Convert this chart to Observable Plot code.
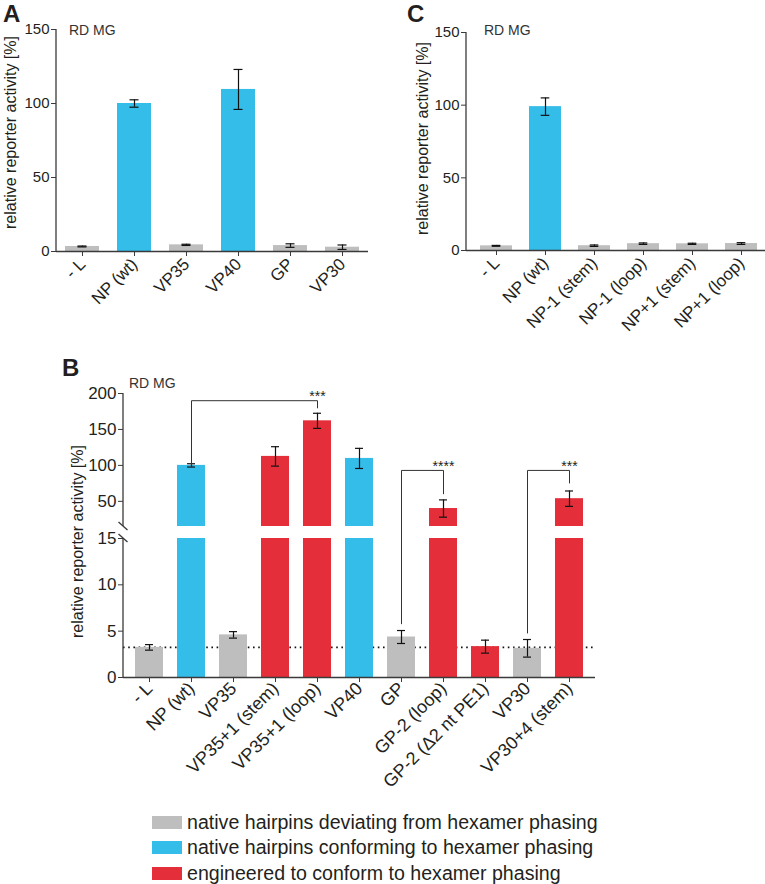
<!DOCTYPE html>
<html><head><meta charset="utf-8">
<script src="https://cdn.jsdelivr.net/npm/d3@7"></script>
<script src="https://cdn.jsdelivr.net/npm/@observablehq/plot@0.6"></script>
<style>
body{margin:0;background:#fff;}
#fig{position:relative;width:765px;height:884px;overflow:hidden;font-family:"Liberation Sans",Arial,Helvetica,sans-serif;color:#231f20;background:#fff;}
.panel{position:absolute;}
.lg{position:absolute;left:152px;display:flex;align-items:center;font-size:19.6px;white-space:nowrap;}
.sw{width:30px;height:13px;margin-right:5px;}
</style></head><body><div id="fig"></div>
<script>
// ---------- shared ----------
const groupNames = ["deviating", "conforming", "engineered"];
const groupColors = ["#BEBEBE", "#35BDEA", "#E42E3A"];
const legendLabels = [
  "native hairpins deviating from hexamer phasing",
  "native hairpins conforming to hexamer phasing",
  "engineered to conform to hexamer phasing"
];
const cellLine = "RD MG";
const yLabel = "relative reporter activity [%]";

// ---------- panel A ----------
const catsA = ["- L", "NP (wt)", "VP35", "VP40", "GP", "VP30"];
const valuesA = [3.4, 100, 4.5, 109.5, 4.0, 2.9];
const errorsA = [0.3, 2.5, 0.4, 13.5, 1.2, 1.5];
const groupsA = ["deviating", "conforming", "deviating", "conforming", "deviating", "deviating"];
const ticksA = [0, 50, 100, 150];

// ---------- panel C ----------
const catsC = ["- L", "NP (wt)", "NP-1 (stem)", "NP-1 (loop)", "NP+1 (stem)", "NP+1 (loop)"];
const valuesC = [3.2, 99, 3.3, 4.7, 4.6, 4.8];
const errorsC = [0.3, 6, 0.5, 0.5, 0.4, 0.6];
const groupsC = ["deviating", "conforming", "deviating", "deviating", "deviating", "deviating"];
const ticksC = [0, 50, 100, 150];

// ---------- panel B ----------
const catsB = ["- L", "NP (wt)", "VP35", "VP35+1 (stem)", "VP35+1 (loop)", "VP40", "GP", "GP-2 (loop)", "GP-2 (\u03942 nt PE1)", "VP30", "VP30+4 (stem)"];
const valuesB = [3.25, 100, 4.6, 112.5, 162, 109.7, 4.37, 40, 3.33, 3.15, 53.7];
const errorsB = [0.3, 2.3, 0.35, 13.5, 10.5, 14, 0.7, 12, 0.7, 0.95, 10.7];
const groupsB = ["deviating", "conforming", "deviating", "engineered", "engineered", "conforming", "deviating", "engineered", "engineered", "deviating", "engineered"];
const ticksB = [0, 5, 10, 15, 50, 100, 150, 200];
const baselineB = 3.25;
const bracketFrom = ["NP (wt)", "GP", "VP30"];
const bracketTo = ["VP35+1 (loop)", "GP-2 (loop)", "VP30+4 (stem)"];
const bracketTop = [190, 93, 93];
const bracketFromEnd = [101, 5.8, 4.8];
const bracketToEnd = [180, 60.5, 75.5];
const bracketLabels = ["***", "****", "***"];

// ---------- helpers ----------
const AXIS = "#3a3a3a";
const INK = "#231f20";
const FONT = '"Liberation Sans", Arial, Helvetica, sans-serif';

// broken y axis for panel B: lower segment [0, 15], upper segment [15, 200]
const LOW_MAX = 15, HIGH_MAX = 200;
const LOW_SPAN = 139, GAP = 12, HIGH_SPAN = 133;
function disp(v) {
  return v <= LOW_MAX ? v * LOW_SPAN / LOW_MAX
    : LOW_SPAN + GAP + (v - LOW_MAX) * HIGH_SPAN / (HIGH_MAX - LOW_MAX);
}
const UPPER_START = LOW_SPAN + GAP;
const DISP_MAX = disp(HIGH_MAX);

function rows(cats, values, errors, groups) {
  return cats.map((c, i) => ({cat: c, value: values[i], err: errors[i], group: groups[i]}));
}

function axisLine(segments, breaks) {
  return (index, scales, values, dims) => {
    const g = d3.create("svg:g").attr("stroke", AXIS).attr("stroke-width", 1.3).attr("fill", "none");
    const x = dims.marginLeft;
    for (const [a, b] of segments) {
      g.append("line").attr("x1", x).attr("x2", x).attr("y1", scales.y(a)).attr("y2", scales.y(b));
    }
    for (const v of breaks) {
      const y = scales.y(v);
      g.append("line").attr("x1", x - 4.5).attr("x2", x + 4.5).attr("y1", y - 4).attr("y2", y + 4);
    }
    return g.node();
  };
}

const colorScale = {domain: groupNames, range: groupColors};

function simplePanel(cats, values, errors, groups, ticks, opts) {
  const data = rows(cats, values, errors, groups);
  return Plot.plot({
    width: opts.width, height: opts.height,
    marginLeft: opts.ml, marginRight: opts.mr, marginTop: opts.mt, marginBottom: opts.mb,
    style: {fontFamily: FONT, fontSize: "15px", color: INK, background: "transparent", overflow: "visible"},
    x: {domain: cats, paddingInner: opts.pi, paddingOuter: opts.po, align: opts.align ?? 0.5},
    y: {domain: [0, ticks[ticks.length - 1]]},
    color: colorScale,
    marks: [
      Plot.barY(data, {x: "cat", y: "value", fill: "group"}),
      Plot.ruleX(data, {x: "cat", y1: d => d.value - d.err, y2: d => d.value + d.err, stroke: "#111", strokeWidth: 1.2}),
      Plot.tickY(data, {x: "cat", y: d => d.value + d.err, stroke: "#111", strokeWidth: 1.2, insetLeft: opts.cap, insetRight: opts.cap}),
      Plot.tickY(data, {x: "cat", y: d => d.value - d.err, stroke: "#111", strokeWidth: 1.2, insetLeft: opts.cap, insetRight: opts.cap}),
      Plot.ruleY([0], {stroke: AXIS, strokeWidth: 1.3}),
      axisLine([[0, ticks[ticks.length - 1]]], []),
      Plot.axisY({ticks, tickSize: 5, tickPadding: 2, fontSize: 15, label: null, stroke: AXIS}),
      Plot.axisX({tickSize: 5, tickPadding: 5, tickRotate: -45, fontSize: 17, label: null, stroke: AXIS}),
      Plot.text([yLabel], {frameAnchor: "left", rotate: -90, textAnchor: "middle", lineAnchor: "middle", dx: opts.ldx, dy: opts.ldy, fontSize: 16, fill: INK})
    ]
  });
}

const fig = document.getElementById("fig");
function place(node, left, top) {
  node.classList.add("panel");
  node.style.left = left + "px";
  node.style.top = top + "px";
  fig.appendChild(node);
}

// Panel A
place(simplePanel(catsA, valuesA, errorsA, groupsA, ticksA,
  {width: 380, height: 330, ml: 56, mr: 12, mt: 29, mb: 79, pi: 0.346, po: 0.173, cap: 12.5, ldx: -46, ldy: -8}), 0, 0);

// Panel C
place(simplePanel(catsC, valuesC, errorsC, groupsC, ticksC,
  {width: 385, height: 360, ml: 86, mr: 0, mt: 32, mb: 110, pi: 0.345, po: 0.2075, align: 0.63, cap: 11.7, ldx: -44, ldy: -3}), 380, 0);

// Panel B
{
  const data = rows(catsB, valuesB, errorsB, groupsB);
  const upper = data.filter(d => d.value > LOW_MAX);
  const tickLabel = new Map(ticksB.map(t => [disp(t), String(t)]));
  const bracketPts = [];
  bracketFrom.forEach((f, i) => {
    bracketPts.push({id: i, cat: f, y: disp(bracketFromEnd[i])});
    bracketPts.push({id: i, cat: f, y: disp(bracketTop[i])});
    bracketPts.push({id: i, cat: bracketTo[i], y: disp(bracketTop[i])});
    bracketPts.push({id: i, cat: bracketTo[i], y: disp(bracketToEnd[i])});
  });
  const bracketText = bracketTo.map((t, i) => ({cat: t, y: disp(bracketTop[i]), label: bracketLabels[i]}));
  const cap = 10;
  const plotB = Plot.plot({
    width: 765, height: 450,
    marginLeft: 123, marginRight: 170, marginTop: 33, marginBottom: 133,
    style: {fontFamily: FONT, fontSize: "17px", color: INK, background: "transparent", overflow: "visible"},
    x: {domain: catsB, paddingInner: 0.34, paddingOuter: 0.165},
    y: {domain: [0, DISP_MAX]},
    color: colorScale,
    marks: [
      Plot.ruleY([disp(baselineB)], {stroke: "#111", strokeWidth: 1.6, strokeDasharray: "1.6,3.6"}),
      Plot.barY(data, {x: "cat", y1: 0, y2: d => disp(Math.min(d.value, LOW_MAX)), fill: "group"}),
      Plot.barY(upper, {x: "cat", y1: UPPER_START, y2: d => disp(d.value), fill: "group"}),
      Plot.ruleX(data, {x: "cat", y1: d => disp(d.value - d.err), y2: d => disp(d.value + d.err), stroke: "#111", strokeWidth: 1.2}),
      Plot.tickY(data, {x: "cat", y: d => disp(d.value + d.err), stroke: "#111", strokeWidth: 1.2, insetLeft: cap, insetRight: cap}),
      Plot.tickY(data, {x: "cat", y: d => disp(d.value - d.err), stroke: "#111", strokeWidth: 1.2, insetLeft: cap, insetRight: cap}),
      Plot.line(bracketPts, {x: "cat", y: "y", z: "id", stroke: "#333", strokeWidth: 1, curve: "linear"}),
      Plot.text(bracketText, {x: "cat", y: "y", text: "label", fontSize: 14, lineAnchor: "middle", dy: -4, fill: INK}),
      Plot.ruleY([0], {stroke: AXIS, strokeWidth: 1.3}),
      axisLine([[0, LOW_SPAN], [UPPER_START, DISP_MAX]], [LOW_SPAN, UPPER_START]),
      Plot.axisY({ticks: ticksB.map(disp), tickFormat: d => tickLabel.get(d), tickSize: 5, tickPadding: 2, fontSize: 17, label: null, stroke: AXIS}),
      Plot.axisX({tickSize: 5, tickPadding: 3, tickRotate: -45, fontSize: 18, label: null, stroke: AXIS}),
      Plot.text([yLabel], {frameAnchor: "left", rotate: -90, textAnchor: "middle", lineAnchor: "middle", dx: -46, dy: 6, fontSize: 16, fill: INK})
    ]
  });
  place(plotB, 0, 360);
}

// Annotations: panel letters and cell line labels
const ann = d3.create("svg").attr("width", 765).attr("height", 884)
  .style("position", "absolute").style("left", 0).style("top", 0).style("pointer-events", "none")
  .style("font-family", FONT);
const letters = [["A", 3, 22], ["C", 407, 22], ["B", 62, 376]];
for (const [t, x, y] of letters) ann.append("text").attr("x", x).attr("y", y).attr("font-size", 24).attr("font-weight", "bold").attr("fill", INK).text(t);
const cellPos = [[69, 35], [484, 35], [129, 388]];
for (const [x, y] of cellPos) ann.append("text").attr("x", x).attr("y", y).attr("font-size", 14).attr("fill", "#333").text(cellLine);
fig.appendChild(ann.node());

// Legend
const legendTops = [815, 840, 866];
legendLabels.forEach((lab, i) => {
  const row = document.createElement("div");
  row.className = "lg";
  row.style.top = legendTops[i] + "px";
  row.style.height = "14px";
  const sw = document.createElement("div");
  sw.className = "sw";
  sw.style.background = groupColors[i];
  const tx = document.createElement("span");
  tx.textContent = lab;
  row.appendChild(sw); row.appendChild(tx);
  fig.appendChild(row);
});
</script>
</body></html>
